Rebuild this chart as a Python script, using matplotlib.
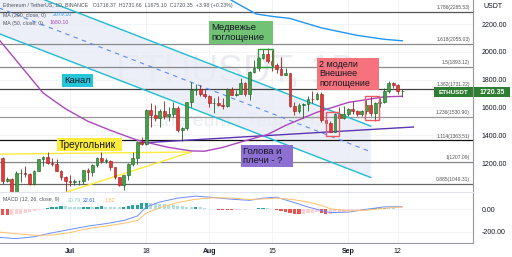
import matplotlib
matplotlib.use("Agg")
import matplotlib.pyplot as plt
from matplotlib.patches import Rectangle, Polygon

plt.rcParams["font.family"] = ["Liberation Sans", "DejaVu Sans"]

# day 0 = 1 Jul 2022, daily ETHUSDT candles from 16 Jun to 13 Sep
days = list(range(-15, 75))
opens = [1234, 1068, 1086, 993, 1127, 1127, 1124, 1050, 1143, 1226, 1243, 1199, 1193, 1143, 1099,
         1067, 1060, 1067, 1074, 1150, 1134, 1186, 1238, 1216, 1217, 1168, 1098, 1039, 1113, 1192,
         1233, 1354, 1339, 1581, 1542, 1521, 1577, 1536, 1551, 1599, 1439, 1451, 1636, 1723, 1736,
         1695, 1680, 1630, 1632, 1618, 1608, 1735, 1690, 1699, 1777, 1700, 1853, 1880, 1958, 1982,
         1936, 1903, 1877, 1834, 1846, 1613, 1575, 1620, 1624, 1663, 1657, 1696, 1508, 1490, 1425,
         1553, 1523, 1553, 1586, 1577, 1556, 1576, 1617, 1562, 1630, 1636, 1718, 1774, 1761, 1716.37]
highs = [1240, 1100, 1090, 1140, 1160, 1180, 1130, 1150, 1230, 1250, 1280, 1233, 1230, 1148, 1105,
         1115, 1083, 1080, 1152, 1165, 1190, 1245, 1280, 1235, 1220, 1170, 1100, 1115, 1200, 1280,
         1360, 1385, 1590, 1635, 1620, 1590, 1645, 1600, 1640, 1610, 1460, 1640, 1785, 1765, 1760,
         1735, 1690, 1665, 1680, 1665, 1740, 1745, 1725, 1815, 1785, 1860, 1940, 1960, 2020, 2030,
         2012, 1918, 1960, 1880, 1850, 1640, 1630, 1630, 1680, 1720, 1710, 1710, 1525, 1500, 1560,
         1605, 1610, 1595, 1645, 1580, 1580, 1650, 1685, 1640, 1665, 1740, 1788, 1780, 1765, 1731.66]
lows = [1052, 1060, 880, 965, 1065, 1100, 1040, 1045, 1140, 1180, 1195, 1180, 1140, 1080, 1000,
        1033, 1045, 1040, 1052, 1080, 1110, 1170, 1200, 1200, 1150, 1085, 1035, 1006, 1075, 1180,
        1190, 1330, 1330, 1460, 1500, 1460, 1520, 1505, 1530, 1425, 1355, 1440, 1600, 1690, 1680,
        1665, 1600, 1560, 1610, 1590, 1605, 1690, 1680, 1695, 1680, 1655, 1850, 1860, 1950, 1920,
        1860, 1850, 1830, 1830, 1600, 1545, 1560, 1525, 1575, 1630, 1650, 1495, 1460, 1420, 1422,
        1500, 1520, 1535, 1551, 1540, 1540, 1555, 1540, 1502, 1600, 1630, 1705, 1740, 1700, 1675.10]
closes = [1068, 1086, 993, 1127, 1127, 1124, 1050, 1143, 1226, 1243, 1199, 1193, 1143, 1099, 1067,
          1060, 1067, 1074, 1150, 1134, 1186, 1238, 1216, 1217, 1168, 1098, 1039, 1113, 1192, 1233,
          1354, 1339, 1581, 1542, 1521, 1577, 1536, 1551, 1599, 1439, 1451, 1636, 1723, 1736, 1695,
          1680, 1630, 1632, 1618, 1608, 1735, 1690, 1699, 1777, 1700, 1853, 1880, 1958, 1982, 1936,
          1903, 1877, 1834, 1846, 1613, 1575, 1620, 1624, 1663, 1657, 1696, 1508, 1490, 1425, 1553,
          1523, 1553, 1586, 1577, 1556, 1576, 1617, 1562, 1630, 1636, 1718, 1774, 1761, 1716, 1720.35]

ma50_days = [-16, -11, -6, -1, 4, 9, 15, 22, 27, 30, 34, 39, 44, 48, 55, 62, 70, 74]
ma50_vals = [2095, 1900, 1704, 1590, 1500, 1435, 1364, 1312, 1287, 1285, 1312, 1360, 1405, 1470,
             1565, 1636, 1676, 1680.1]
ma200_days = [33, 36, 38.5, 41.5, 45, 49, 56, 64, 70, 74]
ma200_vals = [2435, 2370, 2325, 2272, 2255, 2240, 2172, 2118, 2090, 2079.1]

fib_levels = [2285.53, 2055.03, 1893.12, 1731.22, 1530.90, 1363.51, 1207.09, 1049.31]
fib_ratios = ["1.786", "1.618", "1.5", "1.382", "1.236", "1.114", "1", "0.885"]
fib_colors = ["#555555", "#8a8a8a", "#8a8a8a", "#444444", "#9a9a9a", "#111111", "#8a8a8a", "#666666"]

channel_upper = [(-16, 2503), (67, 1465.5)]
channel_lower = [(-16, 2133), (67, 1095.7)]
channel_mid = [(-16, 2318), (67, 1280.6)]
triangle_top = [(-16, 1264), (27, 1279)]
triangle_bottom = [(-2, 978), (27, 1279)]
neckline = [(15.5, 1344), (76.5, 1459)]

macd_days = [-16, -12, -8, -4, 0, 4, 8, 12, 15, 17, 20, 24, 28, 32, 36, 40, 43, 46, 50, 53, 56,
             58, 62, 66, 70, 74]
macd_vals = [-250, -262, -245, -210, -180, -150, -128, -100, -60, 21, 65, 100, 118, 105, 90, 80, 100,
             108, 60, 20, -10, -30, -25, 0, 22, 22.61]
signal_vals = [-202, -218, -232, -230, -208, -172, -150, -125, -100, -34, 15, 60, 90, 103, 100, 88,
               92, 100, 85, 65, 35, 5, -15, -8, 10, 20.79]
hist_vals = [-48, -52, -50, -45, -38, -30, -22, -14, -6, 2, 9, 17, 24, 28, 27,
             24, 22, 20, 21, 23, 22, 24, 26, 24, 22, 20, 18, 20, 26, 34,
             42, 52, 58, 55, 52, 48, 45, 41, 37, 33, 28, 22, 20, 22, 18,
             12, 6, 2, -3, -6, -9, -10, -8, -6, -3, 2, 5, 8, 10, 8,
             4, -2, -12, -22, -32, -40, -45, -42, -36, -30, -28, -35, -40, -38, -32,
             -26, -20, -15, -10, -6, -2, 3, 6, 9, 12, 14, 13, 10, 6, 1.82]

tick_days = [0, 17, 31, 45, 62, 73]
tick_labels = ["Jul", "18", "Aug", "15", "Sep", "12"]
price_ticks = [1200, 1400, 1600, 1800, 2000, 2200]
macd_ticks = [0, -200]

# ---- layout (pixels of a 512x257 image) ----
W, H = 512, 257
PW = 473          # plot width, price scale to the right
MAIN_H = 192
MACD_TOP, MACD_BOT = 192, 243

fig = plt.figure(figsize=(W / 100, H / 100), dpi=100)
fig.patch.set_facecolor("white")
ax = fig.add_axes([0, (H - MAIN_H) / H, PW / W, MAIN_H / H])
axm = fig.add_axes([0, (H - MACD_BOT) / H, PW / W, (MACD_BOT - MACD_TOP) / H])

ax.set_xlim(-15.59, 89.76)
ax.set_ylim(991.4, 2372.7)
axm.set_xlim(-15.59, 89.76)
axm.set_ylim(-300.9, 154.5)

grid_c = "#f0f2f6"
for a in (ax, axm):
    for s in ("top", "left", "bottom"):
        a.spines[s].set_visible(False)
    a.spines["right"].set_color("#9598a1")
    a.spines["right"].set_linewidth(0.8)
    a.yaxis.tick_right()
    a.tick_params(axis="y", length=0, pad=6, labelsize=5, labelcolor="#131722")
    a.set_xticks(tick_days)
    for d in tick_days:
        a.axvline(d, color=grid_c, lw=0.6, zorder=0)
axm.spines["bottom"].set_visible(True)
axm.spines["bottom"].set_color("#9598a1")
axm.spines["bottom"].set_linewidth(0.8)
ax.tick_params(axis="x", length=0, labelbottom=False)
axm.tick_params(axis="x", length=0, pad=3.5, labelsize=5, labelcolor="#131722")
axm.set_xticklabels(tick_labels)
for lbl in axm.get_xticklabels():
    if lbl.get_text() in ("Jul", "Aug", "Sep"):
        lbl.set_fontweight("bold")

ax.set_yticks(price_ticks)
ax.set_yticklabels([f"{v:.2f}" for v in price_ticks])
for v in price_ticks:
    ax.axhline(v, color=grid_c, lw=0.6, zorder=0)
axm.set_yticks(macd_ticks)
axm.set_yticklabels([f"{v:.2f}" for v in macd_ticks])
for v in macd_ticks:
    axm.axhline(v, color=grid_c, lw=0.6, zorder=0)
# separator between panes
fig.add_artist(plt.Line2D([0, PW / W], [(H - MAIN_H) / H] * 2, color="#e0e3eb", lw=0.8))

# watermark
ax.text(0.5, 1 - 72 / MAIN_H, "ETHUSDT, 1D", transform=ax.transAxes, ha="center", va="center",
        fontsize=27, color="#eaecf1", zorder=0.5)
ax.text(0.5, 1 - 122 / MAIN_H, "Ethereum / TetherUS", transform=ax.transAxes, ha="center",
        va="center", fontsize=14, color="#eaecf1", zorder=0.5)

# channel
ax.add_patch(Polygon([channel_upper[0], channel_upper[1], channel_lower[1], channel_lower[0]],
                     closed=True, facecolor="#e8eaf6", edgecolor="none", alpha=0.75, zorder=0.6))
for seg in (channel_upper, channel_lower):
    ax.plot([p[0] for p in seg], [p[1] for p in seg], color="#1fbcd2", lw=1.0, zorder=3)
ax.plot([p[0] for p in channel_mid], [p[1] for p in channel_mid], color="#5b8def", lw=0.8,
        ls=(0, (4, 4)), zorder=3)

# fibonacci levels
for lvl, r, c in zip(fib_levels, fib_ratios, fib_colors):
    ax.axhline(lvl, color=c, lw=0.9, zorder=1)
    ax.text(470 / PW, lvl + 12, f"{r}({lvl:.2f})", transform=ax.get_yaxis_transform(),
            ha="right", va="bottom", fontsize=3.6, color="#555555", zorder=2)

# triangle + neckline
for seg in (triangle_top, triangle_bottom):
    ax.plot([p[0] for p in seg], [p[1] for p in seg], color="#ffeb3b", lw=1.0, zorder=3)
ax.plot([p[0] for p in neckline], [p[1] for p in neckline], color="#5e35b1", lw=1.0, zorder=3)

# moving averages
ax.plot(ma200_days, ma200_vals, color="#2196f3", lw=1.0, zorder=4)
ax.plot(ma50_days, ma50_vals, color="#ab47bc", lw=1.0, zorder=4)

# candles
up = [c >= o for o, c in zip(opens, closes)]
body_c = ["#43a047" if u else "#e53935" for u in up]
edge_c = ["#1b5e20" if u else "#9a1c1c" for u in up]
ax.vlines(days, lows, highs, colors=edge_c, lw=0.6, zorder=5)
ax.bar(days, [max(abs(c - o), 3) for o, c in zip(opens, closes)],
       bottom=[min(o, c) for o, c in zip(opens, closes)], width=0.62,
       color=body_c, edgecolor=edge_c, linewidth=0.4, zorder=6)

# pattern highlights around candles
ax.add_patch(Rectangle((41.9, 1890.6), 3.3, 129.4, fill=False, edgecolor="#2e9d3a", lw=1.0, zorder=7))
ax.add_patch(Rectangle((57.0, 1394), 2.9, 173, fill=False, edgecolor="#f05a64", lw=1.0, zorder=7))
ax.add_patch(Rectangle((65.7, 1509), 3.1, 173, fill=False, edgecolor="#f05a64", lw=1.0, zorder=7))


def label_box(x0, y0, x1, y1, text, face, size=6.8, lines_gap=1.1):
    ax.add_patch(Rectangle((x0 / PW, 1 - y1 / MAIN_H), (x1 - x0) / PW, (y1 - y0) / MAIN_H,
                           transform=ax.transAxes, facecolor=face, edgecolor="none", zorder=8))
    ax.text((x0 + 2) / PW, 1 - ((y0 + y1) / 2) / MAIN_H, text, transform=ax.transAxes,
            ha="left", va="center", fontsize=size, color="#131722", linespacing=lines_gap, zorder=9)


label_box(209, 21, 273, 44, "Медвежье\nпоглощение", "#72c276")
label_box(62, 74, 93, 87, "Канал", "#26c6da")
label_box(57, 138, 122, 151, "Треугольник", "#ffeb3b", size=7.2)
label_box(241, 145, 293, 167, "Голова и\nплечи - ?", "#8e6fd2")
label_box(317, 58, 379, 90, "2 модели\nВнешнее\nпоглощение", "#f6737d", size=6.5)

# MACD pane
hist_c = []
prev = 0
for v in hist_vals:
    if v >= 0:
        hist_c.append("#26a69a" if v >= prev else "#b2dfdb")
    else:
        hist_c.append("#ffcdd2" if v >= prev else "#ef5350")
    prev = v
axm.bar(days, hist_vals, width=0.7, color=hist_c, zorder=2)
axm.plot(macd_days, macd_vals, color="#6d8dff", lw=0.7, zorder=3)
axm.plot(macd_days, signal_vals, color="#ffc06a", lw=0.7, zorder=3)

# legends
def ftext(x, y, s, color="#50535e", size=3.8, **kw):
    fig.text(x / W, 1 - y / H, s, ha="left", va="center", fontsize=size, color=color, **kw)


ftext(3, 6, "Ethereum / TetherUS, 1D, BINANCE   O1716.37  H1731.66  L1675.10  C1720.35  +3.98 (+0.23%)")
ftext(3, 15, "MA (200, close, 0)")
ftext(53, 15, "2079.10", color="#2196f3")
ftext(3, 23, "MA (50, close, 0)")
ftext(50, 23, "1680.10", color="#ab47bc")
ftext(3, 200, "MACD (12, 26, close, 9)")
ftext(68, 200, "20.79", color="#80cbc4")
ftext(83, 200, "22.61", color="#2962ff")
ftext(105, 200, "1.82", color="#ffb74d")
ftext(483, 7, "USDT", color="#131722", size=5)

# last price tags
fig.patches.append(Rectangle((434 / W, 1 - 97 / H), 39 / W, 10 / H, transform=fig.transFigure,
                             facecolor="#2e7d32", edgecolor="none", zorder=10))
fig.patches.append(Rectangle((474 / W, 1 - 97 / H), 36 / W, 10 / H, transform=fig.transFigure,
                             facecolor="#2e7d32", edgecolor="none", zorder=10))
fig.text(453.5 / W, 1 - 92 / H, "ETHUSDT", ha="center", va="center", fontsize=4.6, color="white",
         fontweight="bold", zorder=11)
fig.text(492 / W, 1 - 92 / H, f"{closes[-1]:.2f}", ha="center", va="center", fontsize=5,
         color="white", fontweight="bold", zorder=11)

fig.savefig("out.png", dpi=100)
